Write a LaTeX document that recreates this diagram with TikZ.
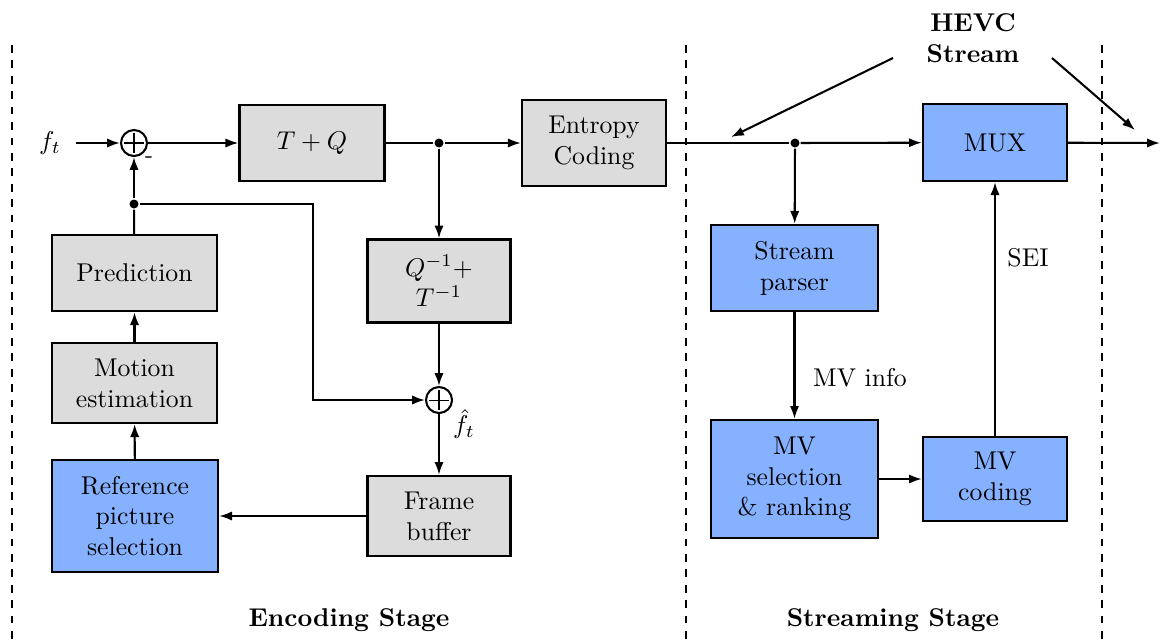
\documentclass[tikz,border=0pt]{standalone}
\usetikzlibrary{arrows.meta}
\definecolor{boxgray}{RGB}{220,220,220}
\definecolor{boxblue}{RGB}{133,177,255}
\begin{document}
\begin{tikzpicture}[x=0.389pt,y=-0.389pt,
  line width=0.8pt,
  blk/.style={draw, line width=0.9pt, align=center, inner sep=0pt},
  gblk/.style={blk, fill=boxgray},
  bblk/.style={blk, fill=boxblue},
  sz/.style 2 args={minimum width=#1*0.389pt, minimum height=#2*0.389pt},
  arr/.style={-{Latex[length=5pt,width=3.6pt]}},
  sumnode/.style={draw, circle, line width=0.8pt, minimum size=26*0.389pt, inner sep=0pt,
    path picture={
      \draw[line width=0.4pt]
        ([xshift=-3.8pt]path picture bounding box.center) -- ([xshift=3.8pt]path picture bounding box.center)
        ([yshift=-3.8pt]path picture bounding box.center) -- ([yshift=3.8pt]path picture bounding box.center);
    }},
  dot/.style={circle, fill, inner sep=0pt, minimum size=3.5pt},
  stage/.style={font=\bfseries}
]
\useasboundingbox (0,0) rectangle (1160,639);

% stage separators
\draw[dashed] (12,45) -- (12,639);
\draw[dashed] (686,45) -- (686,639);
\draw[dashed] (1102,45) -- (1102,639);

% encoder
\node (ft) at (50,143) {$f_t$};
\node[sumnode] (s1) at (134,143) {};
\node[font=\small] at (149,160) {-};
\node[gblk, sz={145}{76}] (tq) at (312,143) {$T+Q$};
\node[dot] (d1) at (439,143) {};
\node[gblk, sz={144}{86}] (ent) at (594,143) {Entropy\\Coding};
\node[gblk, sz={143}{83}] (iq) at (439,281) {$Q^{-1}+$\\$T^{-1}$};
\node[sumnode] (s2) at (439,400) {};
\node at (464,424) {$\hat{f}_t$};
\node[gblk, sz={143}{80}] (fb) at (439,516) {Frame\\buffer};
\node[bblk, sz={166}{112}] (ref) at (135,516) {Reference\\picture\\selection};
\node[gblk, sz={165}{80}] (me) at (134.5,383) {Motion\\estimation};
\node[gblk, sz={165}{76}] (pred) at (134.5,273) {Prediction};
\node[dot] (d2) at (134,204) {};
\coordinate (k) at (313,204);

\draw[arr] (ft.east) ++(2pt,0) -- (s1);
\draw[arr] (s1) -- (tq);
\draw (tq) -- (d1);
\draw[arr] (d1) -- (ent);
\draw[arr] (d1) -- (iq);
\draw[arr] (iq) -- (s2);
\draw[arr] (s2) -- (fb);
\draw[arr] (fb) -- (ref);
\draw[arr] (ref) -- (me);
\draw[arr] (me) -- (pred);
\draw (pred) -- (d2);
\draw[arr] (d2) -- (s1);
\draw[arr] (d2) -- (k) |- (s2);

% streaming
\node[dot] (d3) at (795,143) {};
\node[bblk, sz={144}{77}] (mux) at (995,142.5) {MUX};
\node[bblk, sz={167}{86}] (sp) at (794.5,268) {Stream\\parser};
\node[bblk, sz={167}{118}] (mvs) at (794.5,479) {MV\\selection\\\& ranking};
\node[bblk, sz={144}{84}] (mvc) at (995,479) {MV\\coding};
\coordinate (out) at (1160,143);

\draw (ent) -- (d3);
\draw[arr] (d3) -- (mux);
\draw[arr] (d3) -- (sp);
\draw[arr] (sp) -- (mvs);
\node at (860,378) {MV info};
\draw[arr] (mvs) -- (mvc);
\draw[arr] (mvc) -- (mux);
\node at (1028,258) {SEI};
\draw[arr] (mux) -- (out);

% stream annotation
\node[stage, align=center] (hevc) at (973,38) {HEVC\\Stream};
\coordinate (h1a) at (893,58);
\coordinate (h1b) at (731,137);
\coordinate (h2a) at (1052,58);
\coordinate (h2b) at (1135,130);
\draw[arr] (h1a) -- (h1b);
\draw[arr] (h2a) -- (h2b);

% stage titles
\node[stage] at (349,620) {Encoding Stage};
\node[stage] at (893,620) {Streaming Stage};
\end{tikzpicture}
\end{document}
